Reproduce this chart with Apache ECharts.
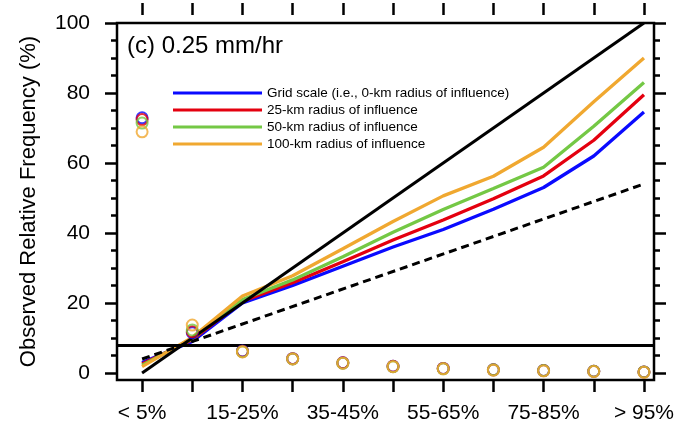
<!DOCTYPE html>
<html>
<head>
<meta charset="utf-8">
<script src="https://cdn.jsdelivr.net/npm/echarts@6/dist/echarts.min.js"></script>
<style>
  html, body { margin: 0; padding: 0; background: #fff; }
  #chart { width: 683px; height: 429px; }
</style>
</head>
<body>
<div id="chart"></div>
<script>
// ---- data ----
const categories = ['< 5%', '5-15%', '15-25%', '25-35%', '35-45%', '45-55%', '55-65%', '65-75%', '75-85%', '85-95%', '> 95%'];
const forecastProb = [0, 10, 20, 30, 40, 50, 60, 70, 80, 90, 100];
const labelProbs = [0, 20, 40, 60, 80, 100];

const seriesNames = ['Grid scale (i.e., 0-km radius of influence)', '25-km radius of influence', '50-km radius of influence', '100-km radius of influence'];

// observed relative frequency (%) — reliability curves
const gridScale = [3.0, 9.0, 20.0, 25.0, 30.5, 36.0, 41.0, 46.8, 53.0, 62.0, 74.6];
const roi25     = [2.6, 9.5, 20.5, 25.8, 31.8, 38.0, 43.7, 49.8, 56.3, 66.5, 79.5];
const roi50     = [2.2, 9.8, 21.0, 26.6, 33.2, 40.2, 46.7, 52.7, 58.8, 70.5, 83.0];
const roi100    = [1.8, 10.2, 22.0, 27.8, 35.5, 43.3, 50.6, 56.2, 64.5, 77.5, 90.0];

// forecast frequency (%) in each bin — open circles
const freqGrid = [72.9, 11.5, 6.3, 4.1, 2.9, 1.9, 1.3, 0.9, 0.7, 0.5, 0.3];
const freq25   = [72.4, 11.8, 6.2, 4.1, 2.9, 1.9, 1.3, 0.9, 0.7, 0.5, 0.3];
const freq50   = [71.4, 12.3, 6.1, 4.0, 2.8, 1.8, 1.2, 0.9, 0.7, 0.5, 0.3];
const freq100  = [68.9, 13.7, 6.0, 4.0, 2.8, 1.8, 1.2, 0.8, 0.6, 0.4, 0.2];

// reference lines
const perfectX = [0, 100];
const perfectY = [0, 100];
const noSkillY = [4, 54];
const climatology = 8;

const yMajor = [0, 20, 40, 60, 80, 100];
const yMinor = [5, 10, 15, 25, 30, 35, 45, 50, 55, 65, 70, 75, 85, 90, 95];

const colors = ['#0a0aff', '#e4000f', '#74c845', '#f0a830'];
const FONT = '"Liberation Sans", Arial, Helvetica, sans-serif';

// ---- build ----
const pair = (xs, ys) => xs.map((x, i) => [x, ys[i]]);
const curves = [gridScale, roi25, roi50, roi100];
const freqs = [freqGrid, freq25, freq50, freq100];

const series = [];
curves.forEach((c, k) => {
  series.push({
    name: seriesNames[k], type: 'line', data: pair(forecastProb, c),
    showSymbol: false, symbol: 'none', color: colors[k],
    lineStyle: { width: 3.3, color: colors[k] }, z: 3, silent: true
  });
});
series.push({
  type: 'line', data: pair(perfectX, perfectY), showSymbol: false, symbol: 'none',
  lineStyle: { width: 3, color: '#000' }, z: 4, silent: true,
  markLine: {
    silent: true, symbol: ['none', 'none'], label: { show: false },
    lineStyle: { color: '#000', width: 3, type: 'solid' },
    data: [{ yAxis: climatology }]
  }
});
series.push({
  type: 'line', data: pair(perfectX, noSkillY), showSymbol: false, symbol: 'none',
  lineStyle: { width: 3, color: '#000', type: [8, 5] }, z: 4, silent: true
});
freqs.forEach((f, k) => {
  series.push({
    name: seriesNames[k], type: 'scatter', data: pair(forecastProb, f),
    symbol: 'circle', symbolSize: 11, z: 5 + k, silent: true,
    itemStyle: { color: 'rgba(0,0,0,0)', borderColor: colors[k], borderWidth: 2 }
  });
});

const tickStyle = { color: '#000', width: 2.5 };
const noLine = { show: false, onZero: false };
const yCommon = { type: 'value', min: -2, max: 100, splitLine: { show: false }, axisLine: noLine };
const xCommon = { type: 'value', min: -5, max: 102, splitLine: { show: false }, axisLine: noLine };

const option = {
  animation: false,
  backgroundColor: '#fff',
  textStyle: { fontFamily: FONT },
  title: {
    text: '(c) 0.25 mm/hr', left: 127, top: 34, padding: 0,
    textStyle: { fontFamily: FONT, fontSize: 24, fontWeight: 'normal', color: '#000' }
  },
  legend: {
    data: seriesNames, orient: 'vertical', left: 173, top: 86,
    icon: 'rect', itemWidth: 89, itemHeight: 3, itemGap: 3,
    padding: 0, selectedMode: false,
    textStyle: { fontFamily: FONT, fontSize: 13.5, lineHeight: 14, color: '#000' }
  },
  grid: {
    left: 117, right: 29, top: 23, bottom: 49,
    show: true, borderColor: '#000', borderWidth: 2.5, backgroundColor: 'rgba(0,0,0,0)'
  },
  xAxis: [
    Object.assign({}, xCommon, {
      position: 'bottom',
      axisTick: { show: true, inside: false, length: 12, lineStyle: tickStyle, customValues: forecastProb },
      axisLabel: {
        show: true, customValues: labelProbs, margin: 23, fontSize: 21, color: '#000', fontFamily: FONT,
        formatter: v => categories[forecastProb.indexOf(Math.round(v))]
      }
    }),
    Object.assign({}, xCommon, {
      position: 'top', offset: 8,
      axisTick: { show: true, inside: false, length: 12, lineStyle: tickStyle, customValues: forecastProb },
      axisLabel: { show: false }
    })
  ],
  yAxis: [
    Object.assign({}, yCommon, {
      position: 'left',
      name: 'Observed Relative Frequency (%)', nameLocation: 'middle', nameGap: 77,
      nameTextStyle: { fontFamily: FONT, fontSize: 22, color: '#000' },
      axisTick: { show: true, inside: false, length: 12, lineStyle: tickStyle, customValues: yMajor },
      axisLabel: { show: true, customValues: yMajor, margin: 27, fontSize: 21, color: '#000', fontFamily: FONT }
    }),
    Object.assign({}, yCommon, {
      position: 'left',
      axisTick: { show: true, inside: false, length: 6, lineStyle: tickStyle, customValues: yMinor },
      axisLabel: { show: false }
    }),
    Object.assign({}, yCommon, {
      position: 'right',
      axisTick: { show: true, inside: false, length: 12, lineStyle: tickStyle, customValues: yMajor },
      axisLabel: { show: false }
    }),
    Object.assign({}, yCommon, {
      position: 'right',
      axisTick: { show: true, inside: false, length: 6, lineStyle: tickStyle, customValues: yMinor },
      axisLabel: { show: false }
    })
  ],
  series: series
};

const chart = echarts.init(document.getElementById('chart'), null, { renderer: 'canvas' });
chart.setOption(option);
</script>
</body>
</html>
